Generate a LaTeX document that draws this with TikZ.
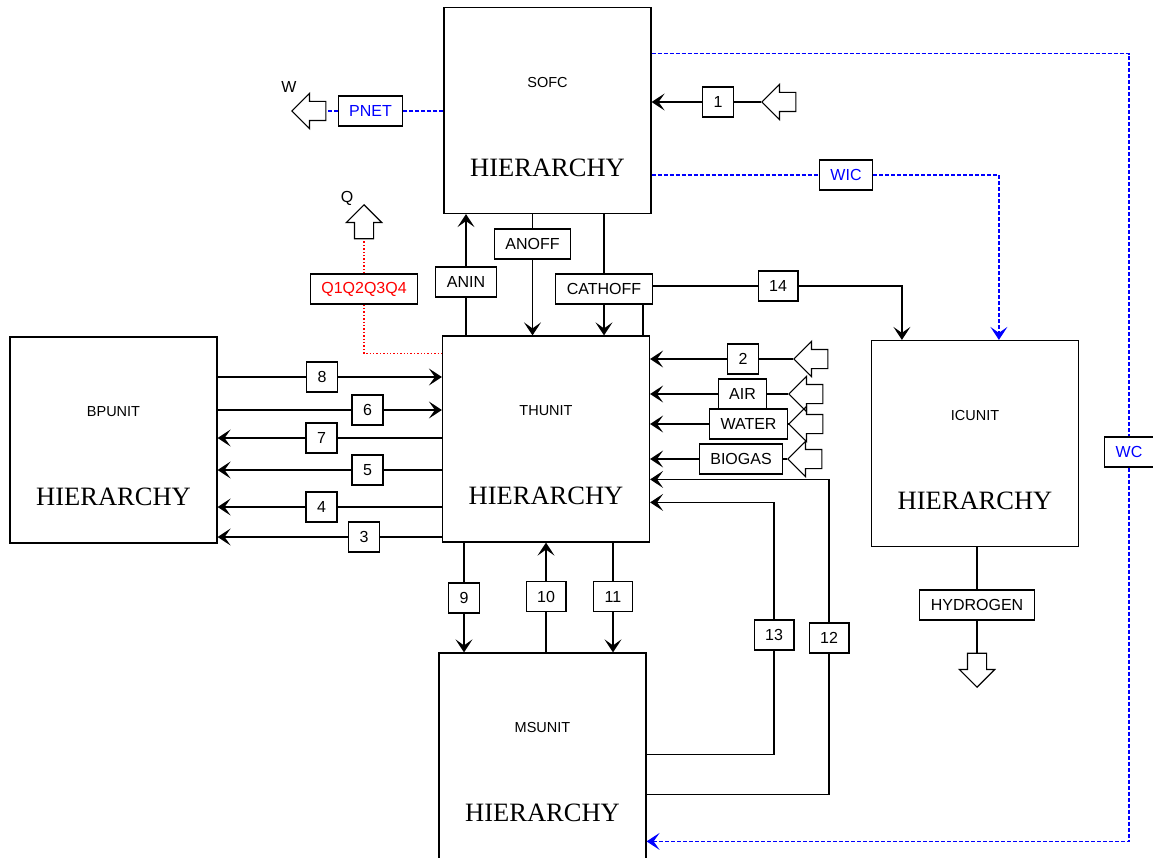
\documentclass[tikz,border=0pt]{standalone}
\usepackage{fontspec}
\setmainfont{Liberation Serif}
\setsansfont{Liberation Sans}
\usetikzlibrary{arrows.meta,shapes.arrows,calc}

\tikzset{
  unitbox/.style={draw,minimum width=207pt,minimum height=206pt,inner sep=0pt},
  unitname/.style={font=\sffamily\fontsize{14.5}{14.5}\selectfont},
  hier/.style={font=\fontsize{26.5}{26.5}\selectfont},
  tagbox/.style={draw,minimum width=30pt,minimum height=30pt,inner xsep=11pt,inner ysep=0pt,font=\sffamily\fontsize{16}{16}\selectfont},
  blockarrow/.style={single arrow,draw,minimum height=34pt,minimum width=34pt,single arrow head extend=8pt,single arrow tip angle=90,inner sep=9pt},
  sig/.style={blue,dash pattern=on 4pt off 2pt},
  heat/.style={red,dotted,line width=1.4pt}
}

\begin{document}
\begin{tikzpicture}[x=1pt,y=-1pt,line width=1.2pt,>={Stealth[length=13pt,width=17pt,inset=6pt]}]
\useasboundingbox (0,0) rectangle (1153,858);
% unit blocks
\foreach \nm/\x/\y/\ttl in {sofc/547.5/110.5/SOFC, thu/546/439/THUNIT, bpu/113.5/440/BPUNIT, icu/975/443.5/ICUNIT, msu/542.5/756/MSUNIT}{
  \node[unitbox] (\nm) at (\x,\y) {};
  \node[unitname] (\nm-n) at (\x,{\y-28}) {\ttl};
  \node[hier] (\nm-h) at (\x,{\y+57}) {HIERARCHY};
}
% SOFC <-> THUNIT
\node[tagbox] (anin) at (466,282) {ANIN};
\node[tagbox] (anoff) at (532.5,244) {ANOFF};
\node[tagbox] (cath) at (604,289) {CATHOFF};
\draw (anin) -- (anin |- thu.north);
\draw[->] (anin) -- (anin |- sofc.south);
\draw (anoff |- sofc.south) -- (anoff);
\draw[->] (anoff) -- (anoff |- thu.north);
\draw (cath |- sofc.south) -- (cath);
\draw[->] (cath) -- (cath |- thu.north);
\draw ([xshift=39pt]cath.south) -- ([xshift=39pt]cath.south |- thu.north);
\node[tagbox] (b14) at (778,286) {14};
\draw (cath.east |- b14) -- (b14);
\draw[->] (b14) -| ([xshift=31pt]icu.north west);
% feed 1
\node[blockarrow,shape border rotate=180,anchor=tip] (b1-a) at (761,102) {};
\node[tagbox] (b1) at (718,102) {1};
\draw (b1-a.tip) -- (b1);
\draw[->] (b1) -- (b1 -| sofc.east);
% power and work
\node[blockarrow,shape border rotate=180,anchor=tip] (warr) at (291,111) {};
\node[font=\sffamily\fontsize{16}{16}\selectfont] (wlab) at (289,87) {W};
\node[tagbox,text=blue] (pnet) at (370.5,111) {PNET};
\draw[sig] (sofc.west |- pnet) -- (pnet);
\draw[sig] (pnet) -- (warr.tail);
\node[tagbox,text=blue] (wic) at (846,175) {WIC};
\draw[sig] (sofc.east |- wic) -- (wic);
\draw[sig,->] (wic) -| ([xshift=128pt]icu.north west);
\node[tagbox,text=blue] (wc) at (1129,452) {WC};
\draw[sig] ($(sofc.north east)+(0,47)$) -| (wc);
\draw[sig,->] (wc) |- ($(msu.north east)+(0,189)$);
% heat
\node[blockarrow,shape border rotate=90,anchor=tip] (qarr) at (364,204) {};
\node[font=\sffamily\fontsize{16}{16}\selectfont] (qlab) at (347,198) {Q};
\node[tagbox,text=red] (q) at (364,289) {Q1Q2Q3Q4};
\draw[heat] (q) -- (qarr.tail);
\draw[heat] (q) |- ($(thu.north west)+(0,18)$);
% feeds into THUNIT
\foreach \nm/\txt/\x/\y/\tip in {b2/2/743/359/793, air/AIR/742.5/394/788, water/WATER/748.5/424/788, biogas/BIOGAS/741/459/787}{
  \node[blockarrow,shape border rotate=180,anchor=tip] (\nm-a) at (\tip,\y) {};
  \node[tagbox] (\nm) at (\x,\y) {\txt};
  \draw (\nm-a.tip) -- (\nm);
  \draw[->] (\nm) -- (\nm -| thu.east);
}
% MSUNIT back to THUNIT
\node[tagbox] (b13) at (774,635) {13};
\node[tagbox] (b12) at (829,638) {12};
\draw ($(msu.north east)+(0,102)$) -| (b13);
\draw[->] (b13) |- ($(thu.north east)+(0,167)$);
\draw ($(msu.north east)+(0,142)$) -| (b12);
\draw[->] (b12) |- ($(thu.north east)+(0,144)$);
% BPUNIT <-> THUNIT
\foreach \n/\x/\y in {8/322/377, 6/367.5/410}{
  \node[tagbox] (b\n) at (\x,\y) {\n};
  \draw (bpu.east |- b\n) -- (b\n);
  \draw[->] (b\n) -- (b\n -| thu.west);
}
\foreach \n/\x/\y in {7/321.5/438, 5/367.5/470, 4/321.5/507, 3/364/537}{
  \node[tagbox] (b\n) at (\x,\y) {\n};
  \draw (thu.west |- b\n) -- (b\n);
  \draw[->] (b\n) -- (b\n -| bpu.east);
}
% THUNIT <-> MSUNIT
\node[tagbox] (b9) at (464,598) {9};
\node[tagbox] (b10) at (546,596.5) {10};
\node[tagbox] (b11) at (613,596.5) {11};
\draw (b9 |- thu.south) -- (b9);
\draw[->] (b9) -- (b9 |- msu.north);
\draw (b10 |- msu.north) -- (b10);
\draw[->] (b10) -- (b10 |- thu.south);
\draw (b11 |- thu.south) -- (b11);
\draw[->] (b11) -- (b11 |- msu.north);
% hydrogen out
\node[tagbox] (h2) at (977,605) {HYDROGEN};
\node[blockarrow,shape border rotate=270,anchor=tip] (h2-a) at (977,688) {};
\draw (h2 |- icu.south) -- (h2);
\draw (h2) -- (h2-a.tail);
\end{tikzpicture}
\end{document}
